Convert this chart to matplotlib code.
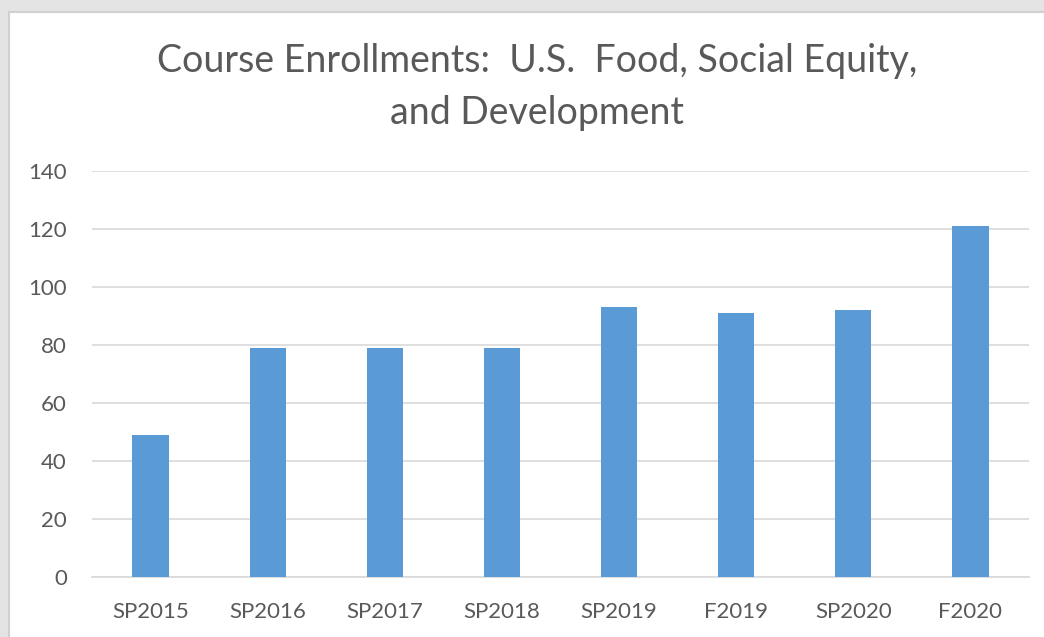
import numpy as np
import matplotlib.pyplot as plt
from matplotlib.patches import Rectangle

# course enrollment counts per term
terms = ['SP2015', 'SP2016', 'SP2017', 'SP2018', 'SP2019', 'F2019', 'SP2020', 'F2020']
enrollments = [49, 79, 79, 79, 93, 91, 92, 121]
y_ticks = [0, 20, 40, 60, 80, 100, 120, 140]

plt.rcParams['font.family'] = ['Lato', 'DejaVu Sans']

fig = plt.figure(figsize=(10.44, 6.37), dpi=100, facecolor='#e4e4e4')

# white chart panel with a faint border
panel = Rectangle((9 / 1044, -0.01), 1.0, 1 - 12 / 637 + 0.01, transform=fig.transFigure,
                  facecolor='white', edgecolor='#d0d0d0', linewidth=1.5, zorder=0)
fig.patches.append(panel)

ax = fig.add_axes([92 / 1044, 1 - 577 / 637, (1029 - 92) / 1044, (577 - 171) / 637])
ax.set_facecolor('none')
ax.set_zorder(2)

x = np.arange(len(terms))
ax.bar(x, enrollments, width=0.31, color='#5b9bd5', zorder=3)

ax.set_xlim(-0.5, len(terms) - 0.5)
ax.set_ylim(0, 140)
ax.set_yticks(y_ticks)
ax.set_xticks(x)
ax.set_xticklabels(terms)

ax.grid(axis='y', color='#d9d9d9', linewidth=1.2, zorder=0)
for side in ['top', 'right', 'left']:
    ax.spines[side].set_visible(False)
ax.spines['bottom'].set_color('#d9d9d9')
ax.spines['bottom'].set_linewidth(1.2)

ax.tick_params(axis='both', length=0, colors='#595959', labelsize=16)
ax.tick_params(axis='y', pad=18)
ax.tick_params(axis='x', pad=18)

fig.text(537 / 1044, 1 - 87 / 637,
         'Course Enrollments:  U.S.  Food, Social Equity,\nand Development',
         ha='center', va='center', fontsize=27, color='#595959', linespacing=1.52,
         zorder=3)

fig.savefig('out.png', dpi=100, facecolor=fig.get_facecolor())
